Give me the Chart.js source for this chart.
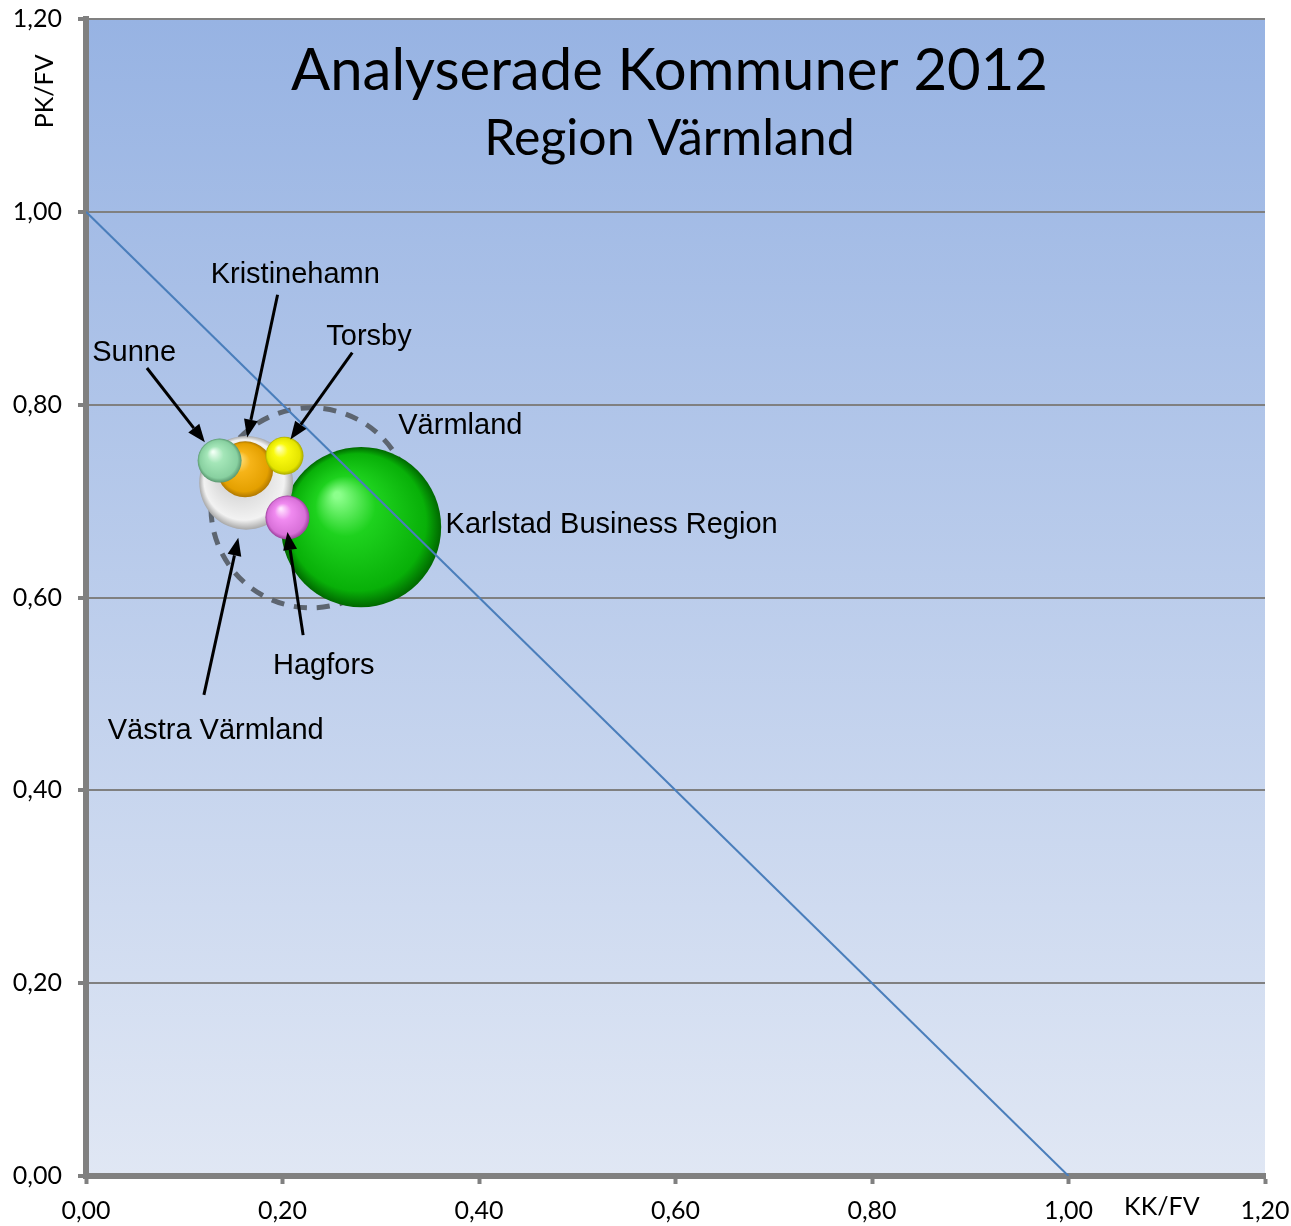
<!DOCTYPE html>
<html lang="sv">
<head>
<meta charset="utf-8">
<title>Analyserade Kommuner 2012</title>
<script src="https://cdn.jsdelivr.net/npm/chart.js@4.4.1/dist/chart.umd.min.js"></script>
<style>
  html, body { margin: 0; padding: 0; background: #ffffff; }
  #wrap { width: 1291px; height: 1226px; position: relative; }
</style>
</head>
<body>
<div id="wrap"><canvas id="bubbleChart"></canvas></div>
<script>
// --- data ---
const names = ["Värmland", "Karlstad Business Region", "Västra Värmland", "Kristinehamn", "Sunne", "Hagfors", "Torsby"];
const kkFv = [0.229, 0.280, 0.163, 0.162, 0.136, 0.205, 0.202];
const pkFv = [0.693, 0.673, 0.719, 0.733, 0.742, 0.683, 0.747];
const invanare = [273000, 175000, 60000, 21400, 13200, 13200, 9900]; // bubble size (area)
const tickValues = [0, 0.2, 0.4, 0.6, 0.8, 1.0, 1.2];
const refLineX = [0, 1];
const refLineY = [1, 0];

// label positions (data units) and arrows
const labelX = [0.381, 0.366, 0.132, 0.213, 0.049, 0.242, 0.288];
const labelY = [0.778, 0.675, 0.462, 0.935, 0.854, 0.529, 0.870];
const arrowFromX = [null, null, 0.120, 0.195, 0.062, 0.221, 0.271];
const arrowFromY = [null, null, 0.499, 0.914, 0.838, 0.561, 0.854];
const arrowToX = [null, null, 0.155, 0.164, 0.121, 0.205, 0.208];
const arrowToY = [null, null, 0.662, 0.766, 0.761, 0.668, 0.764];

// sphere colours: [highlight, base, shade, edge]
const sphereColors = [
  null,
  ["#8cff8c", "#1ed21e", "#08b008", "#006800"],
  ["#ffffff", "#d4d4d4", "#f2f2f2", "#a8a8a8"],
  ["#ffe890", "#f6b418", "#e4a000", "#b07800"],
  ["#f0fff4", "#a4e6b8", "#88d0a0", "#5a9870"],
  ["#ffe4ff", "#f08af0", "#d870d8", "#9c409c"],
  ["#ffffc8", "#fafa10", "#e4e400", "#a8a800"]
];

const maxRadius = 100;
const maxSize = Math.max(...invanare);
const radiusFor = (v) => maxRadius * Math.sqrt(v / maxSize);

const bubblePoints = [];
for (let i = 1; i < names.length; i++) {
  bubblePoints.push({ x: kkFv[i], y: pkFv[i], r: radiusFor(invanare[i]), idx: i });
}
const regionPoint = [{ x: kkFv[0], y: pkFv[0], r: radiusFor(invanare[0]) }];
const linePoints = refLineX.map((x, i) => ({ x: x, y: refLineY[i] }));

const fmt = (v) => Number(v).toFixed(2).replace(".", ",");

function sphereFill(context) {
  if (context.type !== "data" || !context.raw) return "transparent";
  const chart = context.chart;
  const raw = context.raw;
  const cols = sphereColors[raw.idx];
  const cx = chart.scales.x ? chart.scales.x.getPixelForValue(raw.x) : NaN;
  const cy = chart.scales.y ? chart.scales.y.getPixelForValue(raw.y) : NaN;
  const r = raw.r;
  if (!isFinite(cx) || !isFinite(cy)) return cols[1];
  const g = chart.ctx.createRadialGradient(cx - r * 0.3, cy - r * 0.4, r * 0.04, cx, cy, r);
  g.addColorStop(0, cols[0]);
  g.addColorStop(0.35, cols[1]);
  g.addColorStop(0.85, cols[2]);
  g.addColorStop(1, cols[3]);
  return g;
}

// gradient plot background
const plotBackground = {
  id: "plotBackground",
  beforeDraw(chart) {
    const { ctx, chartArea } = chart;
    const g = ctx.createLinearGradient(0, chartArea.top, 0, chartArea.bottom);
    g.addColorStop(0, "#97b3e3");
    g.addColorStop(1, "#e0e7f4");
    ctx.save();
    ctx.fillStyle = g;
    ctx.fillRect(chartArea.left, chartArea.top, chartArea.right - chartArea.left, chartArea.bottom - chartArea.top);
    ctx.restore();
  }
};

// dashed ring for the whole region
const dashedRegion = {
  id: "dashedRegion",
  beforeDatasetDraw(chart, args) {
    if (args.index === 2) {
      chart.ctx.save();
      chart.ctx.setLineDash([13, 10]);
    }
  },
  afterDatasetDraw(chart, args) {
    if (args.index === 2) chart.ctx.restore();
  }
};

function drawArrow(ctx, x1, y1, x2, y2) {
  const ang = Math.atan2(y2 - y1, x2 - x1);
  const head = 18, wing = 7;
  const bx = x2 - head * Math.cos(ang);
  const by = y2 - head * Math.sin(ang);
  ctx.beginPath();
  ctx.moveTo(x1, y1);
  ctx.lineTo(bx, by);
  ctx.stroke();
  ctx.beginPath();
  ctx.moveTo(x2, y2);
  ctx.lineTo(bx + wing * Math.sin(ang), by - wing * Math.cos(ang));
  ctx.lineTo(bx - wing * Math.sin(ang), by + wing * Math.cos(ang));
  ctx.closePath();
  ctx.fill();
}

// titles, labels, arrows and axis titles
const annotations = {
  id: "annotations",
  afterDraw(chart) {
    const { ctx, chartArea } = chart;
    const sx = chart.scales.x, sy = chart.scales.y;
    ctx.save();
    ctx.fillStyle = "#000000";
    ctx.strokeStyle = "#000000";
    ctx.lineWidth = 3;

    const midX = (chartArea.left + chartArea.right) / 2 - 6;
    ctx.textAlign = "center";
    ctx.textBaseline = "middle";
    ctx.font = "58px Lato, 'Open Sans', sans-serif";
    ctx.fillText("Analyserade Kommuner 2012", midX, chartArea.top + 52);
    ctx.font = "50px Lato, 'Open Sans', sans-serif";
    ctx.fillText("Region Värmland", midX, chartArea.top + 120);

    ctx.font = "29px 'Liberation Sans', Arial, sans-serif";
    for (let i = 0; i < names.length; i++) {
      ctx.textAlign = i === 1 ? "left" : "center";
      ctx.fillText(names[i], sx.getPixelForValue(labelX[i]), sy.getPixelForValue(labelY[i]));
      if (arrowFromX[i] !== null) {
        drawArrow(ctx,
          sx.getPixelForValue(arrowFromX[i]), sy.getPixelForValue(arrowFromY[i]),
          sx.getPixelForValue(arrowToX[i]), sy.getPixelForValue(arrowToY[i]));
      }
    }

    ctx.font = "25px Lato, 'Open Sans', sans-serif";
    ctx.textAlign = "center";
    ctx.fillText("KK/FV", sx.getPixelForValue(1.095), chartArea.bottom + 31);
    ctx.save();
    ctx.translate(45, sy.getPixelForValue(1.125));
    ctx.rotate(-Math.PI / 2);
    ctx.fillText("PK/FV", 0, 0);
    ctx.restore();
    ctx.restore();
  }
};

const ctx = document.getElementById("bubbleChart");

new Chart(ctx, {
  data: {
    datasets: [
      {
        type: "line",
        data: linePoints,
        borderColor: "#4a7ebb",
        borderWidth: 2,
        pointRadius: 0,
        fill: false,
        order: 0
      },
      {
        type: "bubble",
        data: bubblePoints,
        backgroundColor: sphereFill,
        borderWidth: 0,
        order: 1
      },
      {
        type: "bubble",
        data: regionPoint,
        backgroundColor: "rgba(0,0,0,0)",
        borderColor: "#5d6570",
        borderWidth: 5,
        order: 2
      }
    ]
  },
  options: {
    responsive: true,
    maintainAspectRatio: false,
    animation: false,
    layout: { autoPadding: false, padding: { left: 0, right: 26, top: 19, bottom: 0 } },
    plugins: {
      legend: { display: false },
      tooltip: { enabled: false }
    },
    scales: {
      x: {
        type: "linear",
        min: 0,
        max: 1.2,
        afterFit: (scale) => {
          scale.height = 50;
          scale.paddingLeft = 0;
          scale.paddingRight = 0;
        },
        afterBuildTicks: (scale) => { scale.ticks = tickValues.map((v) => ({ value: v })); },
        ticks: {
          callback: fmt,
          color: "#000000",
          padding: 12,
          maxRotation: 0,
          font: { family: "Lato, 'Open Sans', sans-serif", size: 25 }
        },
        grid: {
          drawOnChartArea: false,
          drawTicks: true,
          tickLength: 8,
          tickWidth: 4,
          tickColor: "#808080"
        },
        border: { display: true, color: "#808080", width: 6 }
      },
      y: {
        type: "linear",
        min: 0,
        max: 1.2,
        afterFit: (scale) => {
          scale.width = 86;
          scale.paddingTop = 0;
          scale.paddingBottom = 0;
        },
        afterBuildTicks: (scale) => { scale.ticks = tickValues.map((v) => ({ value: v })); },
        ticks: {
          callback: fmt,
          color: "#000000",
          padding: 16,
          font: { family: "Lato, 'Open Sans', sans-serif", size: 25 }
        },
        grid: {
          color: "#808080",
          lineWidth: 2,
          tickLength: 8,
          tickWidth: 4,
          tickColor: "#808080"
        },
        border: { display: true, color: "#808080", width: 6 }
      }
    }
  },
  plugins: [plotBackground, dashedRegion, annotations]
});
</script>
</body>
</html>
